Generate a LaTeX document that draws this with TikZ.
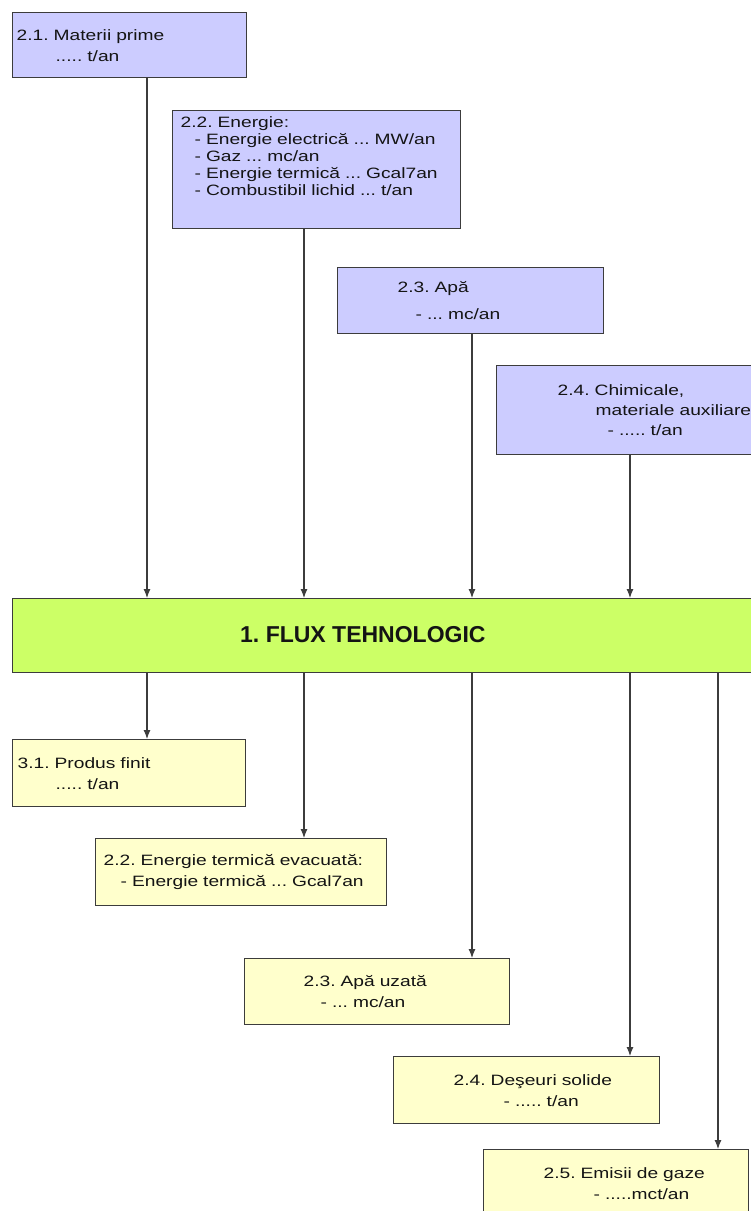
\documentclass[tikz,border=0pt]{standalone}
\usepackage{fontspec}
\setmainfont{Liberation Sans}
\newfontfamily\bodyfont[FakeStretch=1.28]{Liberation Sans}
\newfontfamily\titlefont{Liberation Sans}
\usetikzlibrary{positioning,arrows.meta}
\definecolor{colorinput}  {RGB}{204,204,255}
\definecolor{colorflux}   {RGB}{204,255,102}
\definecolor{coloroutput} {RGB}{255,255,204}
\definecolor{colorline}   {RGB}{ 60, 60, 60}
\definecolor{colortext}   {RGB}{ 20, 20, 20}
\frenchspacing

\begin{document}
\begin{tikzpicture}[
    x=1pt, y=-1pt,
    box/.style={draw=colorline,line width=1.3pt,anchor=north west,inner xsep=4pt,inner ysep=0pt,align=left,text=colortext,font={\bodyfont\fontsize{15}{17}\selectfont}},
    inbox/.style={box,fill=colorinput},
    outbox/.style={box,fill=coloroutput},
    fluxbox/.style={draw=colorline,line width=1.3pt,fill=colorflux,anchor=north west,inner sep=0pt},
    title/.style={text=colortext,font={\titlefont\bfseries\fontsize{23}{27}\selectfont},anchor=west,inner sep=0pt},
    flow/.style={draw=colorline,line width=1.1pt,-{Latex[length=9pt,width=7pt]}}
]
    \useasboundingbox (0,0) rectangle (751,1211);
    \clip (0,0) rectangle (751,1211);

    % Inputs
    \node[inbox,text width=226pt,minimum height=65pt] (in1) at (12,12) {2.1. Materii prime\\[4pt]\hspace*{39pt}..... t/an};
    \node[inbox,text width=280pt,minimum height=118pt] (in2) at (172,110) {\hspace*{4pt}2.2. Energie:\\
        \hspace*{18pt}- Energie electrică ... MW/an\\
        \hspace*{18pt}- Gaz ... mc/an\\
        \hspace*{18pt}- Energie termică ... Gcal7an\\
        \hspace*{18pt}- Combustibil lichid ... t/an\rule[-27pt]{0pt}{0pt}};
    \node[inbox,text width=258pt,minimum height=66pt] (in3) at (337,267) {\hspace*{56pt}2.3. Apă\\[10pt]\hspace*{74pt}- ... mc/an};
    \node[inbox,text width=266pt,minimum height=89pt] (in4) at (496,365) {\hspace*{57pt}2.4. Chimicale,\\[3pt]\hspace*{95pt}materiale auxiliare\\[3pt]\hspace*{107pt}- ..... t/an};

    % Flux
    \node[fluxbox,minimum width=768pt,minimum height=74pt] (flux) at (12,598) {};
    \node[title] (fluxtitle) at (240,635) {1. FLUX TEHNOLOGIC};

    % Arrows to flux
    \draw[flow] (in1.south -| 147,0) -- (flux.north -| 147,0);
    \draw[flow] (in2.south -| 304,0) -- (flux.north -| 304,0);
    \draw[flow] (in3.south -| 472,0) -- (flux.north -| 472,0);
    \draw[flow] (in4.south -| 630,0) -- (flux.north -| 630,0);

    % Outputs
    \node[outbox,text width=225pt,minimum height=67pt] (out1) at (12,739) {\hspace*{1pt}3.1. Produs finit\\[4pt]\hspace*{39pt}..... t/an};
    \node[outbox,text width=283pt,minimum height=67pt] (out2) at (95,838) {\hspace*{4pt}2.2. Energie termică evacuată:\\[4pt]\hspace*{21pt}- Energie termică ... Gcal7an};
    \node[outbox,text width=257pt,minimum height=66pt] (out3) at (244,958) {\hspace*{55pt}2.3. Apă uzată\\[4pt]\hspace*{72pt}- ... mc/an};
    \node[outbox,text width=258pt,minimum height=67pt] (out4) at (393,1056) {\hspace*{56pt}2.4. Deşeuri solide\\[4pt]\hspace*{106pt}- ..... t/an};
    \node[outbox,text width=257pt,minimum height=67pt] (out5) at (483,1149) {\hspace*{56pt}2.5. Emisii de gaze\\[4pt]\hspace*{106pt}- .....mct/an};

    % Arrows from flux
    \draw[flow] (flux.south -| 147,0) -- (out1.north -| 147,0);
    \draw[flow] (flux.south -| 304,0) -- (out2.north -| 304,0);
    \draw[flow] (flux.south -| 472,0) -- (out3.north -| 472,0);
    \draw[flow] (flux.south -| 630,0) -- (out4.north -| 630,0);
    \draw[flow] (flux.south -| 718,0) -- (out5.north -| 718,0);

\end{tikzpicture}
\end{document}
